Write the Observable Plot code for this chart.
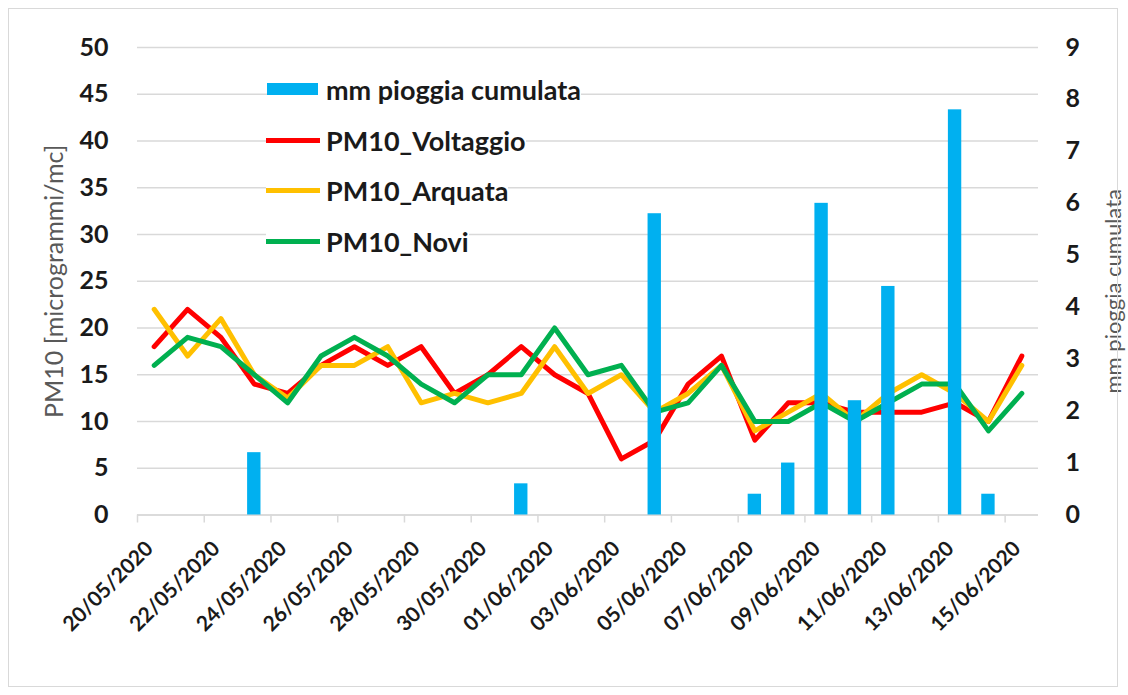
<!DOCTYPE html>
<html>
<head>
<meta charset="utf-8">
<script src="https://cdn.jsdelivr.net/npm/d3@7"></script>
<script src="https://cdn.jsdelivr.net/npm/@observablehq/plot@0.6"></script>
<style>
  html, body { margin: 0; padding: 0; background: #fff; }
  #wrap { position: relative; width: 1128px; height: 695px; overflow: hidden; font-family: Lato, "Open Sans", sans-serif; }
  #frame { position: absolute; left: 8px; top: 8px; width: 1110px; height: 679px; border: 1px solid #d9d9d9; box-sizing: border-box; pointer-events: none; }
  #legend { position: absolute; left: 0; top: 0; }
  .entry { position: absolute; display: flex; align-items: center; height: 32px; background: #fff; font-weight: 700; font-size: 27px; color: #1a1a1a; white-space: nowrap; }
  .sw-bar { width: 51px; height: 12px; margin-right: 8px; }
  .sw-line { width: 54px; height: 5px; margin-right: 6px; }
</style>
</head>
<body>
<div id="wrap"><div id="frame"></div></div>
<script>
// ---- data ----
const dates = ["2020-05-20","2020-05-21","2020-05-22","2020-05-23","2020-05-24","2020-05-25","2020-05-26","2020-05-27","2020-05-28","2020-05-29","2020-05-30","2020-05-31","2020-06-01","2020-06-02","2020-06-03","2020-06-04","2020-06-05","2020-06-06","2020-06-07","2020-06-08","2020-06-09","2020-06-10","2020-06-11","2020-06-12","2020-06-13","2020-06-14","2020-06-15"];
const pioggia   = [0, 0, 0, 1.2, 0, 0, 0, 0, 0, 0, 0, 0.6, 0, 0, 0, 5.8, 0, 0, 0.4, 1.0, 6.0, 2.2, 4.4, 0, 7.8, 0.4, 0];
const voltaggio = [18, 22, 19, 14, 13, 16, 18, 16, 18, 13, 15, 18, 15, 13, 6, 8, 14, 17, 8, 12, 12, 11, 11, 11, 12, 10, 17];
const arquata   = [22, 17, 21, 15, 12.5, 16, 16, 18, 12, 13, 12, 13, 18, 13, 15, 11, 13, 16, 9, 11, 13, 10, 13, 15, 13, 10, 16];
const novi      = [16, 19, 18, 15, 12, 17, 19, 17, 14, 12, 15, 15, 20, 15, 16, 11, 12, 16, 10, 10, 12, 10, 12, 14, 14, 9, 13];
const xTickDates = ["2020-05-20","2020-05-22","2020-05-24","2020-05-26","2020-05-28","2020-05-30","2020-06-01","2020-06-03","2020-06-05","2020-06-07","2020-06-09","2020-06-11","2020-06-13","2020-06-15"];
const leftTicks  = [0, 5, 10, 15, 20, 25, 30, 35, 40, 45, 50];
const rightTicks = [0, 1, 2, 3, 4, 5, 6, 7, 8, 9];
const seriesNames = ["PM10_Voltaggio", "PM10_Arquata", "PM10_Novi"];
const seriesColors = ["#ff0000", "#ffc000", "#00b050"];
const rainName = "mm pioggia cumulata";
const rainColor = "#00b0f0";
const leftTitle = "PM10 [microgrammi/mc]";
const rightTitle = "mm pioggia cumulata";

// ---- build ----
const parse = d3.utcParse("%Y-%m-%d");
const fmt = d3.utcFormat("%d/%m/%Y");
const DAY = 24 * 3600 * 1000;
const k = 50 / 9; // secondary axis ratio
const rows = dates.map((d, i) => ({date: parse(d), mm: pioggia[i]}));
const lineRows = [];
[voltaggio, arquata, novi].forEach((s, j) => dates.forEach((d, i) => lineRows.push({date: new Date(+parse(d) + DAY / 2), v: s[i], s: seriesNames[j]})));

const chart = Plot.plot({
  width: 1128,
  height: 695,
  marginLeft: 137,
  marginRight: 90,
  marginTop: 47,
  marginBottom: 180.5,
  style: {fontFamily: "Lato, 'Open Sans', sans-serif", background: "transparent"},
  x: {type: "utc", domain: [parse("2020-05-20"), parse("2020-06-16")]},
  y: {domain: [0, 50]},
  color: {domain: seriesNames, range: seriesColors},
  marks: [
    Plot.gridY(leftTicks, {stroke: "#d9d9d9", strokeOpacity: 1, strokeWidth: 1.5}),
    Plot.axisX(xTickDates.map(parse), {tickSize: 8, stroke: "#d9d9d9", strokeWidth: 1.5, tickFormat: () => "", label: null}),
    Plot.axisX(xTickDates.map(parse), {tickSize: 0, tickPadding: 30, tickRotate: -45, tickFormat: fmt, fontSize: 21, fontWeight: 700, fill: "#1a1a1a", dx: 12, label: null}),
    Plot.axisY(leftTicks, {anchor: "left", tickSize: 0, tickPadding: 29, fontSize: 25, fontWeight: 700, fill: "#1a1a1a", label: null}),
    Plot.axisY(rightTicks.map(v => v * k), {anchor: "right", tickSize: 0, tickPadding: 27, tickFormat: v => Math.round(v / k), fontSize: 25, fontWeight: 700, fill: "#1a1a1a", label: null}),
    Plot.ruleY([0], {stroke: "#d9d9d9", strokeWidth: 1.5}),
    Plot.line(lineRows, {x: "date", y: "v", stroke: "s", z: "s", strokeWidth: 5, strokeLinejoin: "round", strokeLinecap: "round"}),
    Plot.rectY(rows.filter(r => r.mm > 0), {x1: "date", x2: r => new Date(+r.date + DAY), y: r => r.mm * k, insetLeft: 10, insetRight: 10, fill: rainColor}),
    Plot.text([leftTitle], {frameAnchor: "left", textAnchor: "middle", dx: -83, rotate: -90, fontSize: 25, fill: "#595959"}),
    Plot.text([rightTitle], {frameAnchor: "right", textAnchor: "middle", dx: 75, dy: 10, rotate: -90, fontSize: 22, fill: "#595959"})
  ]
});
const wrap = document.getElementById("wrap");
wrap.insertBefore(chart, wrap.firstChild);

// legend (HTML overlay)
const legend = document.createElement("div");
legend.id = "legend";
const items = [{name: rainName, color: rainColor, bar: true}].concat(seriesNames.map((n, i) => ({name: n, color: seriesColors[i], bar: false})));
const cy = [89, 140, 190, 241];
items.forEach((it, i) => {
  const e = document.createElement("div");
  e.className = "entry";
  e.style.left = (it.bar ? 267 : 266) + "px";
  e.style.top = (cy[i] - 16) + "px";
  const sw = document.createElement("div");
  sw.className = it.bar ? "sw-bar" : "sw-line";
  sw.style.background = it.color;
  e.appendChild(sw);
  const t = document.createElement("span");
  t.textContent = it.name;
  e.appendChild(t);
  legend.appendChild(e);
});
wrap.appendChild(legend);
</script>
</body>
</html>
